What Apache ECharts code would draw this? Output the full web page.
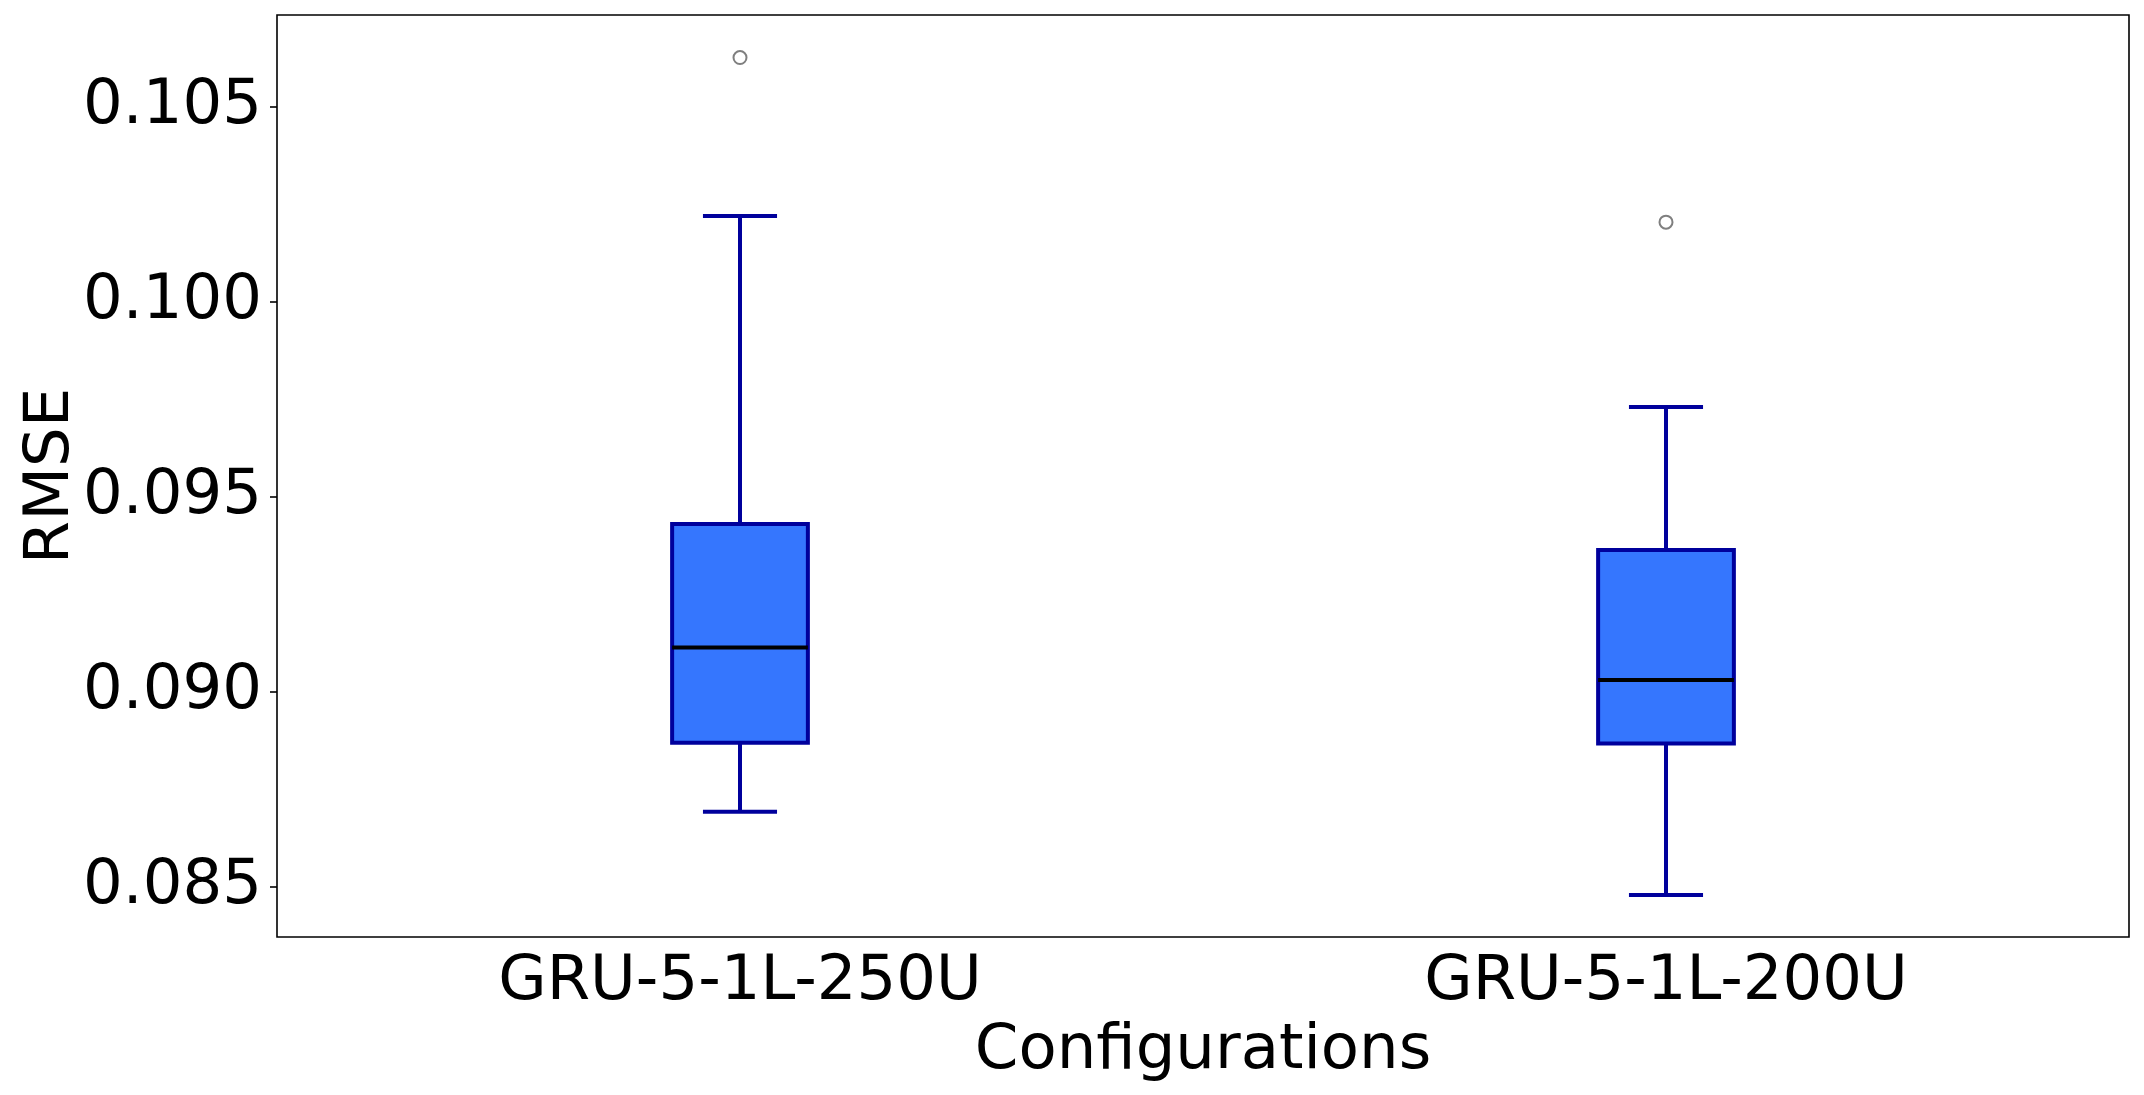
<!DOCTYPE html>
<html>
<head>
<meta charset="utf-8">
<title>RMSE boxplot</title>
<script src="https://cdn.jsdelivr.net/npm/echarts@6/dist/echarts.min.js"></script>
<style>
  html, body { margin: 0; padding: 0; background: #fff; }
  #main { width: 2144px; height: 1095px; }
</style>
</head>
<body>
<div id="main"></div>
<script>
// values
var categories = ['GRU-5-1L-250U', 'GRU-5-1L-200U'];
var whiskerLow = [0.08692, 0.08479];
var q1 = [0.08869, 0.08867];
var median = [0.09113, 0.09030];
var q3 = [0.09430, 0.09363];
var whiskerHigh = [0.10220, 0.09730];
var outliers = [[0, 0.10626], [1, 0.10204]];
var yTicks = [0.085, 0.090, 0.095, 0.100, 0.105];

var font = 'DejaVu Sans';
var edge = '#00009c';

var boxData = [];
for (var i = 0; i < categories.length; i++) {
  boxData.push([i, whiskerLow[i], q1[i], median[i], q3[i], whiskerHigh[i]]);
}

function renderBox(params, api) {
  var idx = api.value(0);
  var band = api.size([1, 0])[0];
  var half = band * 0.0733;
  var capHalf = band * 0.04;
  var pLow = api.coord([idx, api.value(1)]);
  var pQ1 = api.coord([idx, api.value(2)]);
  var pMed = api.coord([idx, api.value(3)]);
  var pQ3 = api.coord([idx, api.value(4)]);
  var pHigh = api.coord([idx, api.value(5)]);
  var x = pMed[0];
  var lineStyle = { stroke: edge, lineWidth: 4 };
  return {
    type: 'group',
    children: [
      { type: 'line', shape: { x1: x, y1: pQ1[1], x2: x, y2: pLow[1] }, style: lineStyle },
      { type: 'line', shape: { x1: x, y1: pQ3[1], x2: x, y2: pHigh[1] }, style: lineStyle },
      { type: 'line', shape: { x1: x - capHalf, y1: pLow[1], x2: x + capHalf, y2: pLow[1] }, style: lineStyle },
      { type: 'line', shape: { x1: x - capHalf, y1: pHigh[1], x2: x + capHalf, y2: pHigh[1] }, style: lineStyle },
      {
        type: 'rect',
        shape: { x: x - half, y: pQ3[1], width: half * 2, height: pQ1[1] - pQ3[1] },
        style: { fill: '#3576fe', stroke: edge, lineWidth: 4 }
      },
      // median
      { type: 'line', shape: { x1: x - half, y1: pMed[1], x2: x + half, y2: pMed[1] }, style: { stroke: '#000', lineWidth: 4 } }
    ]
  };
}

var myChart = echarts.init(document.getElementById('main'));

myChart.setOption({
  animation: false,
  grid: {
    left: 277, right: 15, top: 15, bottom: 158,
    show: true, borderColor: '#000', borderWidth: 1.6, backgroundColor: 'transparent'
  },
  xAxis: {
    type: 'category',
    data: categories,
    boundaryGap: true,
    name: 'Configurations',
    nameLocation: 'middle',
    nameGap: 83,
    nameMoveOverlap: false,
    nameTextStyle: { fontFamily: font, fontSize: 62.5, color: '#000' },
    axisLine: { show: false },
    axisTick: { alignWithLabel: true, length: 7, lineStyle: { color: '#000', width: 1.6 } },
    axisLabel: { fontFamily: font, fontSize: 62.5, color: '#000', margin: 14 },
    splitLine: { show: false }
  },
  yAxis: {
    type: 'value',
    min: 0.08371,
    max: 0.107351,
    name: 'RMSE',
    nameLocation: 'middle',
    nameGap: 194,
    nameMoveOverlap: false,
    nameRotate: 90,
    nameTextStyle: { fontFamily: font, fontSize: 62.5, color: '#000' },
    axisLine: { show: false },
    axisTick: { show: true, length: 7, customValues: yTicks, lineStyle: { color: '#000', width: 1.6 } },
    axisLabel: {
      fontFamily: font, fontSize: 62.5, color: '#000', margin: 15,
      customValues: yTicks,
      formatter: function (v) { return v.toFixed(3); }
    },
    splitLine: { show: false }
  },
  series: [
    {
      type: 'custom',
      renderItem: renderBox,
      encode: { x: 0, y: [1, 2, 3, 4, 5] },
      data: boxData
    },
    {
      type: 'scatter',
      symbol: 'circle',
      symbolSize: 13,
      itemStyle: { color: '#fff', borderColor: '#7f7f7f', borderWidth: 2, opacity: 1 },
      data: outliers
    }
  ]
});
</script>
</body>
</html>
